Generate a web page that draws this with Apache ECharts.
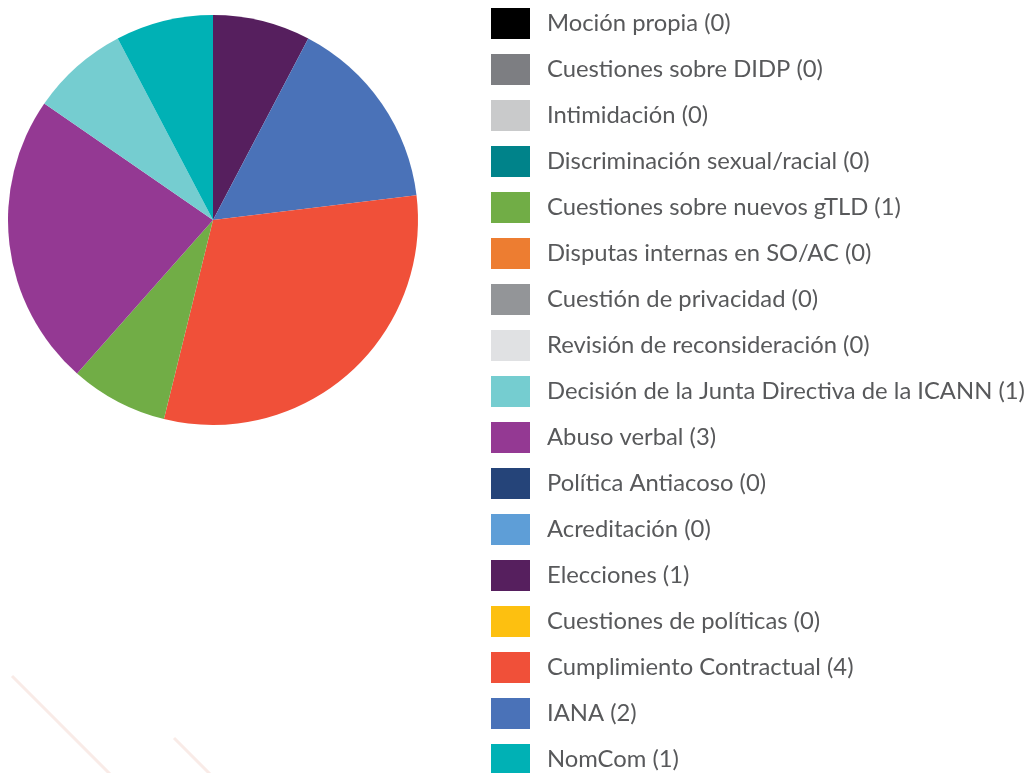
<!DOCTYPE html>
<html>
<head>
<meta charset="utf-8">
<script src="https://cdn.jsdelivr.net/npm/echarts@6/dist/echarts.min.js"></script>
<style>
html,body{margin:0;padding:0;background:#fff;}
#chart{width:1026px;height:773px;}
</style>
</head>
<body>
<div id="chart"></div>
<script>
// Legend order
const categories = [
  'Moción propia',
  'Cuestiones sobre DIDP',
  'Intimidación',
  'Discriminación sexual/racial',
  'Cuestiones sobre nuevos gTLD',
  'Disputas internas en SO/AC',
  'Cuestión de privacidad',
  'Revisión de reconsideración',
  'Decisión de la Junta Directiva de la ICANN',
  'Abuso verbal',
  'Política Antiacoso',
  'Acreditación',
  'Elecciones',
  'Cuestiones de políticas',
  'Cumplimiento Contractual',
  'IANA',
  'NomCom'
];
const values = [0, 0, 0, 0, 1, 0, 0, 0, 1, 3, 0, 0, 1, 0, 4, 2, 1];
const colors = [
  '#000000', '#7d7e82', '#c9cacb', '#00838a', '#71ad46', '#ed7d31',
  '#939598', '#e0e1e3', '#75cdd0', '#943993', '#254479', '#5e9ed7',
  '#561f5e', '#fdc010', '#f05039', '#4a72b8', '#00b1b5'
];
// Clockwise drawing order of the pie, starting at 12 o'clock
const pieOrder = [
  'Elecciones', 'IANA', 'Cumplimiento Contractual', 'Cuestiones sobre nuevos gTLD',
  'Abuso verbal', 'Decisión de la Junta Directiva de la ICANN', 'NomCom',
  'Moción propia', 'Cuestiones sobre DIDP', 'Intimidación', 'Discriminación sexual/racial',
  'Disputas internas en SO/AC', 'Cuestión de privacidad', 'Revisión de reconsideración',
  'Política Antiacoso', 'Acreditación', 'Cuestiones de políticas'
];

const valueOf = {};
const colorOf = {};
categories.forEach((c, i) => { valueOf[c] = values[i]; colorOf[c] = colors[i]; });

const pieData = pieOrder.map(n => ({ name: n, value: valueOf[n], itemStyle: { color: colorOf[n] } }));

const chart = echarts.init(document.getElementById('chart'), null, { renderer: 'canvas' });
chart.setOption({
  animation: false,
  backgroundColor: '#ffffff',
  graphic: [
    { type: 'line', shape: { x1: 12, y1: 676, x2: 110, y2: 774 }, style: { stroke: '#f9ebe7', lineWidth: 3 }, silent: true },
    { type: 'line', shape: { x1: 174, y1: 738, x2: 210, y2: 774 }, style: { stroke: '#f9ebe7', lineWidth: 3 }, silent: true }
  ],
  legend: {
    orient: 'vertical',
    left: 491,
    top: 8,
    height: 900,
    width: 600,
    padding: 0,
    itemWidth: 39,
    itemHeight: 31,
    itemGap: 15,
    icon: 'rect',
    selectedMode: false,
    data: categories.map(c => ({ name: c, itemStyle: { color: colorOf[c] } })),
    formatter: name => name + ' (' + valueOf[name] + ')',
    textStyle: {
      fontFamily: 'Lato',
      fontSize: 23.8,
      color: '#58595b',
      padding: [0, 0, 0, 12]
    }
  },
  series: [{
    type: 'pie',
    center: [213, 220],
    radius: 205,
    startAngle: 90,
    clockwise: true,
    avoidLabelOverlap: false,
    label: { show: false },
    labelLine: { show: false },
    emphasis: { disabled: true },
    itemStyle: { borderWidth: 0 },
    data: pieData
  }]
});
</script>
</body>
</html>
